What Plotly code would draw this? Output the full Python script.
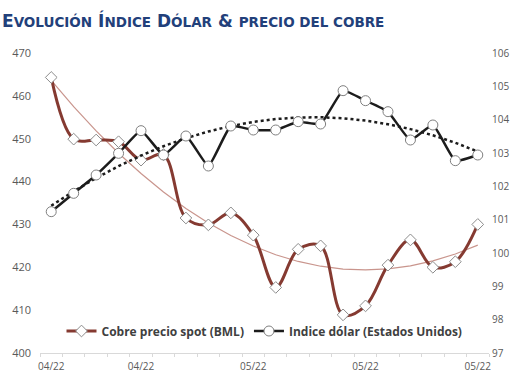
import numpy as np
import plotly.graph_objects as go

# ---- data ----
periodos = list(range(20))
tick_pos = [0, 4, 9, 14, 19]
tick_labels = ["04/22", "04/22", "05/22", "05/22", "05/22"]

cobre = [464.3, 449.9, 449.7, 449.3, 445.0, 446.3, 431.5, 429.9, 432.7, 427.5,
         415.3, 424.2, 425.0, 408.9, 411.0, 420.5, 426.4, 420.0, 421.3, 430.0]
dolar = [101.24, 101.79, 102.34, 102.99, 103.67, 102.94, 103.51, 102.61, 103.81, 103.69,
         103.69, 103.94, 103.87, 104.87, 104.57, 104.24, 103.39, 103.84, 102.77, 102.94]

# polynomial (order 2) trend lines, as in the original spreadsheet chart
x = np.array(periodos, dtype=float)
tend_cobre = np.polyval(np.polyfit(x, cobre, 2), x)
tend_dolar = np.polyval(np.polyfit(x, dolar, 2), x)

COBRE = "#853a31"
NEGRO = "#1c1c1c"
GRIS = "#595959"

fig = go.Figure()
fig.add_trace(go.Scatter(x=periodos, y=tend_cobre, mode="lines", showlegend=False,
                         line=dict(color="#c9958d", width=1.2), hoverinfo="skip"))
fig.add_trace(go.Scatter(x=periodos, y=tend_dolar, mode="lines", showlegend=False, yaxis="y2",
                         line=dict(color=NEGRO, width=2.5, dash="dot"), hoverinfo="skip"))
fig.add_trace(go.Scatter(x=periodos, y=cobre, mode="lines+markers", name="Cobre precio spot (BML)",
                         line=dict(color=COBRE, width=3, shape="spline", smoothing=1.0),
                         marker=dict(symbol="diamond", size=9, color="white",
                                     line=dict(color="#8c8c8c", width=1))))
fig.add_trace(go.Scatter(x=periodos, y=dolar, mode="lines+markers", name="Indice dólar (Estados Unidos)",
                         yaxis="y2",
                         line=dict(color=NEGRO, width=2.5, shape="spline", smoothing=0.4),
                         marker=dict(symbol="circle", size=10, color="white",
                                     line=dict(color="#7f7f7f", width=1))))

title_txt = ("E<span style='font-size:13.5px'>VOLUCIÓN</span> Í<span style='font-size:13.5px'>NDICE</span> "
             "D<span style='font-size:13.5px'>ÓLAR</span> &amp; "
             "<span style='font-size:13.5px'>PRECIO DEL COBRE</span>")

fig.update_layout(
    template="none",
    width=510, height=382,
    margin=dict(l=40, r=21, t=53, b=29),
    paper_bgcolor="white", plot_bgcolor="white",
    title=dict(text=title_txt, x=0.004, xanchor="left", y=1 - 21 / 382, yanchor="middle",
               font=dict(family="DejaVu Sans", size=17, color="#22407a", weight="bold")),
    xaxis=dict(range=[-0.5, 19.5], tickmode="array", tickvals=tick_pos, ticktext=tick_labels,
               showgrid=False, zeroline=False, showline=True, linecolor="#d9d9d9", linewidth=1,
               ticks="", tickfont=dict(family="Open Sans", size=10, color=GRIS),
               ticklabelstandoff=4,
               minor=dict(ticks="outside", tick0=-0.5, dtick=1, ticklen=3, tickcolor="#d9d9d9",
                          showgrid=False),
               automargin=False, fixedrange=True),
    yaxis=dict(range=[400, 470], dtick=10, showgrid=False, zeroline=False, showline=False,
               ticks="", tickfont=dict(family="Open Sans", size=11, color=GRIS),
               ticklabelstandoff=8, automargin=False),
    yaxis2=dict(range=[97, 106], dtick=1, overlaying="y", side="right", showgrid=False,
                zeroline=False, showline=False, ticks="",
                tickfont=dict(family="Open Sans", size=10, color=GRIS),
                ticklabelstandoff=2, automargin=False),
    legend=dict(orientation="h", x=0.5, xanchor="center", y=(353 - 331) / 300, yanchor="middle",
                bgcolor="rgba(0,0,0,0)", font=dict(family="Open Sans", size=12, color="#404040",
                                                  weight="bold"),
                itemwidth=30, tracegroupgap=0),
    showlegend=True,
)

fig.write_html("out.html", config={"displayModeBar": False},
               post_script="document.body.style.margin='0';")
